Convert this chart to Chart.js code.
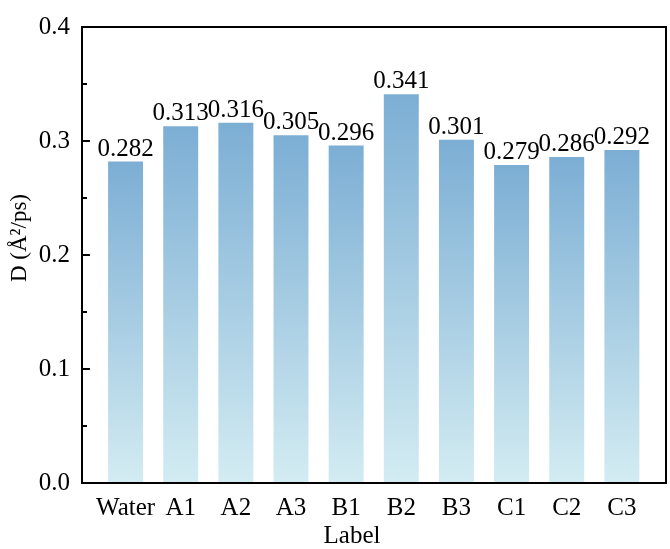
<!DOCTYPE html>
<html>
<head>
<meta charset="utf-8">
<script src="https://cdn.jsdelivr.net/npm/chart.js@4.4.0/dist/chart.umd.min.js"></script>
<style>
  html, body { margin: 0; padding: 0; background: #ffffff; }
  #wrap { width: 670px; height: 549px; position: relative; }
</style>
</head>
<body>
<div id="wrap"><canvas id="c" width="670" height="549"></canvas></div>
<script>
const categories = ['Water', 'A1', 'A2', 'A3', 'B1', 'B2', 'B3', 'C1', 'C2', 'C3'];
const values = [0.282, 0.313, 0.316, 0.305, 0.296, 0.341, 0.301, 0.279, 0.286, 0.292];
const valueLabels = ['0.282', '0.313', '0.316', '0.305', '0.296', '0.341', '0.301', '0.279', '0.286', '0.292'];
const yTickLabels = ['0.0', '0.1', '0.2', '0.3', '0.4'];
const xTitle = 'Label';
const yTitle = 'D (Å²/ps)';

const FONT = "'Liberation Serif', 'Times New Roman', 'DejaVu Serif', serif";
const TOP_COLOR = '#7caed4';
const BOTTOM_COLOR = '#d3ecf2';

const points = values.map((v, i) => ({ x: i, y: v }));

const framePlugin = {
  id: 'frame',
  afterDraw(chart) {
    const { ctx, chartArea: a, scales } = chart;
    ctx.save();
    ctx.strokeStyle = '#000';
    ctx.lineWidth = 2;
    scales.y.ticks.forEach((t) => {
      const py = Math.round(scales.y.getPixelForValue(t.value));
      const major = Math.abs(t.value * 10 - Math.round(t.value * 10)) < 1e-6;
      const len = major ? 8 : 5;
      ctx.beginPath();
      ctx.moveTo(a.left, py);
      ctx.lineTo(a.left + len, py);
      ctx.stroke();
    });
    ctx.strokeRect(a.left, a.top, a.right - a.left, a.bottom - a.top);

    ctx.fillStyle = '#000';
    ctx.font = '25px ' + FONT;
    ctx.textAlign = 'center';
    ctx.textBaseline = 'alphabetic';
    const meta = chart.getDatasetMeta(0);
    meta.data.forEach((bar, i) => {
      ctx.fillText(valueLabels[i], bar.x, bar.y - 6);
    });

    ctx.font = '25px ' + FONT;
    ctx.textBaseline = 'middle';
    ctx.fillText(xTitle, (a.left + a.right) / 2 - 22, 536);
    ctx.save();
    ctx.translate(20, (a.top + a.bottom) / 2 - 17);
    ctx.rotate(-Math.PI / 2);
    ctx.font = '23px ' + FONT;
    ctx.fillText(yTitle, 0, 0);
    ctx.restore();
    ctx.restore();
  }
};

new Chart(document.getElementById('c'), {
  type: 'bar',
  data: {
    datasets: [{
      data: points,
      barPercentage: 0.634,
      categoryPercentage: 1,
      borderWidth: 0,
      backgroundColor: (c) => {
        const chart = c.chart;
        const { ctx, chartArea, scales } = chart;
        if (!chartArea || !c.raw) return TOP_COLOR;
        const y1 = scales.y.getPixelForValue(c.raw.y);
        const y0 = scales.y.getPixelForValue(0);
        const g = ctx.createLinearGradient(0, y1, 0, y0);
        g.addColorStop(0, TOP_COLOR);
        g.addColorStop(1, BOTTOM_COLOR);
        return g;
      }
    }]
  },
  options: {
    responsive: false,
    animation: false,
    devicePixelRatio: 1,
    layout: { padding: { top: 11, right: 4, left: 0, bottom: 0 } },
    plugins: { legend: { display: false }, tooltip: { enabled: false } },
    scales: {
      x: {
        type: 'linear',
        min: -0.79,
        max: 9.8,
        offset: false,
        grid: { display: false, drawTicks: false },
        border: { display: false },
        afterBuildTicks: (s) => { s.ticks = categories.map((_, i) => ({ value: i })); },
        afterFit: (s) => { s.height = 66; },
        ticks: {
          autoSkip: false,
          maxRotation: 0,
          padding: 10,
          color: '#000',
          font: { family: FONT, size: 25 },
          callback: (v) => categories[v] ?? ''
        }
      },
      y: {
        min: 0,
        max: 0.4,
        grid: { display: false, drawTicks: false },
        border: { display: false },
        afterFit: (s) => { s.width = 82; },
        ticks: {
          stepSize: 0.05,
          autoSkip: false,
          padding: 12,
          color: '#000',
          font: { family: FONT, size: 25 },
          callback: (v) => {
            const k = Math.round(v * 10);
            return Math.abs(v * 10 - k) < 1e-6 ? yTickLabels[k] : '';
          }
        }
      }
    }
  },
  plugins: [framePlugin]
});
</script>
</body>
</html>
